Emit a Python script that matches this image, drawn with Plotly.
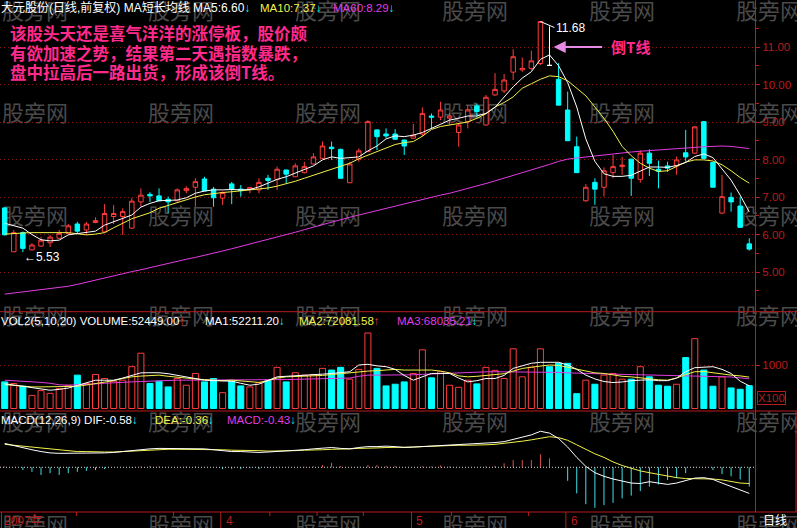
import plotly.graph_objects as go

W, H = 797, 528

# ---------------- data ----------------
opens = [6.71, 5.54, 6.05, 5.59, 5.69, 5.78, 5.90, 6.03, 6.28, 6.12,
         6.32, 6.07, 6.48, 6.48, 6.17, 6.87, 7.07, 7.03, 6.94, 6.90,
         7.17, 7.26, 7.48, 7.21, 6.97, 7.35, 7.21, 7.21, 7.19, 7.50,
         7.47, 7.72, 7.54, 7.65, 7.88, 8.03, 8.33, 8.27, 7.38, 8.01,
         8.21, 8.79, 8.68, 8.68, 8.52, 8.57, 8.68, 9.16, 9.13, 9.10,
         8.72, 9.01, 9.43, 8.92, 9.72, 9.83, 10.33, 10.39, 10.43, 10.56,
         10.51, 10.14, 9.32, 8.34, 6.90, 7.39, 7.26, 7.65, 7.81, 8.01,
         7.47, 8.17, 7.74, 7.83, 7.83, 8.18, 8.17, 9.01, 7.92, 6.57,
         6.99, 6.76, 5.75]
highs = [6.72, 6.12, 6.08, 5.77, 5.94, 5.99, 6.12, 6.28, 6.34, 6.34,
         6.46, 6.81, 6.79, 6.70, 6.97, 7.23, 7.13, 7.23, 7.01, 7.23,
         7.29, 7.50, 7.54, 7.27, 7.15, 7.40, 7.32, 7.27, 7.50, 7.59,
         7.81, 7.73, 7.90, 7.94, 8.17, 8.48, 8.48, 8.29, 7.94, 8.30,
         9.05, 8.80, 8.83, 8.81, 8.53, 8.95, 9.39, 9.23, 9.54, 9.23,
         8.95, 9.45, 9.50, 9.72, 10.30, 10.28, 10.94, 10.72, 10.90, 11.68,
         11.55, 10.57, 9.81, 8.61, 7.35, 7.50, 7.79, 8.12, 8.07, 8.02,
         8.25, 8.27, 7.97, 7.94, 8.08, 8.79, 8.89, 9.02, 7.94, 7.59,
         7.12, 7.01, 5.90]
lows = [5.98, 5.54, 5.53, 5.58, 5.67, 5.67, 5.89, 6.02, 6.03, 5.99,
        6.30, 6.05, 6.28, 5.99, 6.15, 6.74, 6.87, 6.90, 6.57, 6.88,
        7.10, 6.74, 7.16, 6.74, 6.79, 6.81, 7.01, 7.10, 7.10, 7.19,
        7.19, 7.37, 7.53, 7.63, 7.87, 8.02, 7.99, 7.50, 7.37, 7.94,
        8.20, 8.25, 8.57, 8.52, 8.12, 8.55, 8.61, 8.83, 9.05, 8.92,
        8.34, 8.83, 9.14, 8.91, 9.70, 9.77, 10.12, 10.34, 10.38, 10.52,
        10.51, 9.45, 8.50, 7.65, 6.87, 6.79, 7.01, 7.50, 7.59, 7.03,
        7.38, 7.56, 7.23, 7.67, 7.59, 7.94, 8.15, 8.01, 7.26, 6.55,
        6.61, 6.19, 5.57]
closes = [5.99, 6.05, 5.63, 5.72, 5.85, 5.93, 6.03, 6.23, 6.09, 6.28,
          6.37, 6.56, 6.56, 6.61, 6.89, 7.05, 7.03, 6.90, 6.87, 7.19,
          7.23, 7.41, 7.16, 6.98, 7.12, 7.21, 7.17, 7.25, 7.39, 7.44,
          7.74, 7.61, 7.83, 7.81, 8.07, 8.36, 8.29, 7.50, 7.88, 8.23,
          9.01, 8.61, 8.63, 8.54, 8.36, 8.65, 9.23, 9.13, 9.32, 9.16,
          8.92, 9.32, 9.28, 9.66, 9.87, 10.12, 10.74, 10.43, 10.63, 11.68,
          10.51, 9.45, 8.50, 7.65, 7.26, 7.21, 7.70, 7.81, 7.85, 7.50,
          8.17, 7.90, 7.69, 7.77, 7.99, 8.07, 8.87, 8.03, 7.26, 7.01,
          6.87, 6.19, 5.61]

ma5 = [6.30, 6.24, 6.17, 6.00, 5.86, 5.83, 5.85, 5.99, 6.03, 6.06,
       6.09, 6.25, 6.34, 6.41, 6.52, 6.73, 6.83, 6.90, 6.92, 6.92,
       6.98, 7.10, 7.16, 7.19, 7.19, 7.20, 7.19, 7.20, 7.27, 7.38,
       7.47, 7.54, 7.63, 7.72, 7.83, 7.99, 8.07, 8.03, 8.04, 8.07,
       8.23, 8.36, 8.55, 8.63, 8.61, 8.65, 8.72, 8.83, 8.95, 9.05,
       9.10, 9.16, 9.16, 9.23, 9.39, 9.66, 9.94, 10.17, 10.34, 10.67,
       10.79, 10.50, 10.05, 9.40, 8.55, 7.95, 7.62, 7.55, 7.55, 7.58,
       7.70, 7.80, 7.80, 7.79, 7.84, 7.92, 8.08, 8.15, 8.05, 7.75,
       7.45, 7.05, 6.60]
ma10 = [6.01, 6.03, 6.04, 6.05, 6.05, 6.05, 6.05, 6.05, 6.02, 5.99,
        6.01, 6.05, 6.18, 6.30, 6.42, 6.50, 6.58, 6.70, 6.78, 6.85,
        6.92, 7.00, 7.06, 7.10, 7.12, 7.14, 7.16, 7.18, 7.21, 7.24,
        7.29, 7.35, 7.42, 7.50, 7.58, 7.66, 7.75, 7.83, 7.90, 8.02,
        8.12, 8.20, 8.30, 8.40, 8.45, 8.48, 8.62, 8.80, 8.88, 8.92,
        8.95, 9.00, 9.10, 9.22, 9.40, 9.52, 9.67, 9.90, 10.02, 10.14,
        10.23, 10.21, 10.10, 9.90, 9.70, 9.40, 9.10, 8.75, 8.35, 8.10,
        7.90, 7.77, 7.68, 7.70, 7.82, 7.93, 7.99, 7.99, 7.96, 7.86,
        7.70, 7.52, 7.37]
ma60 = [4.41, 4.44, 4.47, 4.50, 4.52, 4.55, 4.58, 4.62, 4.67, 4.73,
        4.78, 4.84, 4.89, 4.95, 5.01, 5.06, 5.12, 5.17, 5.23, 5.28,
        5.34, 5.39, 5.44, 5.50, 5.56, 5.62, 5.68, 5.74, 5.80, 5.86,
        5.92, 5.99, 6.06, 6.13, 6.20, 6.27, 6.34, 6.40, 6.46, 6.52,
        6.58, 6.65, 6.71, 6.77, 6.83, 6.88, 6.94, 7.00, 7.05, 7.10,
        7.16, 7.22, 7.29, 7.36, 7.43, 7.50, 7.57, 7.64, 7.72, 7.80,
        7.87, 7.95, 8.01, 8.04, 8.07, 8.10, 8.13, 8.15, 8.18, 8.20,
        8.22, 8.24, 8.26, 8.27, 8.29, 8.31, 8.33, 8.34, 8.35, 8.36,
        8.35, 8.33, 8.29]

# volume in units of 100 shares (axis marked X100)
volume = [612, 574, 512, 302, 411, 349, 457, 535, 767, 574,
          783, 690, 628, 651, 961, 1271, 574, 628, 496, 690,
          535, 806, 612, 690, 364, 628, 519, 496, 597, 651,
          946, 612, 822, 767, 783, 922, 884, 946, 674, 899,
          1736, 922, 519, 558, 612, 806, 1349, 705, 845, 535,
          488, 651, 566, 946, 876, 690, 1372, 728, 946, 1372,
          961, 1039, 1039, 341, 651, 558, 767, 806, 674, 674,
          961, 728, 535, 512, 558, 1171, 1605, 884, 512, 728,
          473, 442, 524.49]
vol_ma5 = [570, 540, 520, 496, 460, 420, 440, 470, 530, 590,
           650, 650, 650, 700, 760, 820, 822, 822, 800, 760,
           728, 690, 651, 640, 635, 628, 580, 535, 560, 650,
           728, 740, 750, 760, 767, 790, 806, 820, 845, 1000,
           1016, 980, 961, 900, 760, 651, 720, 806, 806, 806,
           700, 612, 640, 690, 690, 760, 922, 980, 1040, 1062,
           1062, 1062, 1000, 900, 767, 680, 620, 597, 610, 640,
           651, 660, 640, 640, 700, 845, 938, 950, 961, 900,
           806, 628, 522.112]
vol_ma10 = [550, 530, 510, 496, 496, 496, 496, 496, 510, 540,
            574, 600, 640, 690, 728, 745, 760, 767, 740, 715,
            697, 680, 665, 651, 640, 651, 630, 610, 600, 640,
            700, 728, 735, 740, 751, 760, 780, 800, 830, 845,
            860, 870, 885, 899, 884, 884, 884, 884, 860, 820,
            750, 728, 740, 760, 767, 800, 860, 920, 950, 980,
            1000, 990, 950, 900, 860, 820, 806, 770, 740, 728,
            700, 680, 660, 651, 700, 780, 845, 850, 820, 790,
            767, 750, 720.8158]
vol_ma20 = [651, 640, 630, 620, 600, 580, 545, 535, 540, 550,
            565, 580, 595, 605, 612, 620, 630, 640, 648, 651,
            651, 651, 651, 651, 651, 651, 651, 651, 651, 655,
            660, 665, 670, 675, 680, 685, 690, 695, 700, 740,
            767, 767, 767, 767, 767, 775, 785, 795, 805, 815,
            825, 835, 840, 843, 845, 845, 845, 845, 845, 845,
            840, 830, 820, 810, 806, 800, 795, 790, 785, 783,
            783, 783, 780, 775, 770, 765, 760, 755, 750, 740,
            725, 705, 680.3521]

dif = [0.53, 0.48, 0.44, 0.39, 0.35, 0.32, 0.31, 0.31, 0.31, 0.31,
       0.31, 0.32, 0.33, 0.35, 0.38, 0.40, 0.41, 0.42, 0.42, 0.42,
       0.42, 0.42, 0.41, 0.39, 0.37, 0.35, 0.35, 0.34, 0.33, 0.34,
       0.35, 0.36, 0.38, 0.39, 0.41, 0.43, 0.44, 0.42, 0.41, 0.44,
       0.46, 0.46, 0.47, 0.46, 0.44, 0.45, 0.46, 0.47, 0.48, 0.50,
       0.51, 0.52, 0.53, 0.54, 0.55, 0.57, 0.62, 0.67, 0.72, 0.80,
       0.76, 0.64, 0.45, 0.22, 0.02, -0.12, -0.20, -0.26, -0.31, -0.35,
       -0.36, -0.32, -0.35, -0.38, -0.35, -0.30, -0.24, -0.23, -0.27, -0.35,
       -0.43, -0.51, -0.58]
dea = [0.51, 0.49, 0.47, 0.44, 0.42, 0.40, 0.38, 0.36, 0.35, 0.35,
       0.34, 0.34, 0.34, 0.35, 0.36, 0.37, 0.38, 0.40, 0.40, 0.40,
       0.40, 0.40, 0.40, 0.40, 0.39, 0.38, 0.38, 0.37, 0.37, 0.36,
       0.36, 0.36, 0.37, 0.38, 0.38, 0.39, 0.40, 0.40, 0.41, 0.42,
       0.42, 0.43, 0.44, 0.44, 0.44, 0.45, 0.46, 0.47, 0.48, 0.49,
       0.49, 0.49, 0.49, 0.50, 0.51, 0.53, 0.55, 0.58, 0.61, 0.65,
       0.68, 0.66, 0.60, 0.50, 0.40, 0.30, 0.22, 0.12, 0.04, -0.02,
       -0.08, -0.12, -0.16, -0.19, -0.23, -0.25, -0.25, -0.25, -0.26, -0.28,
       -0.32, -0.35, -0.36]
macd_hist = [0.02, 0.00, -0.06, -0.10, -0.17, -0.13, -0.17, -0.13, -0.10, -0.08,
             -0.06, -0.04, 0.00, 0.00, 0.01, 0.02, 0.03, 0.02, 0.00, 0.00,
             0.02, 0.02, 0.01, 0.00, -0.04, -0.03, -0.04, -0.02, -0.04, -0.01,
             0.00, 0.00, 0.00, 0.01, 0.02, 0.05, 0.10, 0.03, 0.00, 0.01,
             0.05, 0.05, 0.03, 0.03, 0.00, 0.00, 0.02, 0.02, 0.04, 0.02,
             0.00, 0.00, 0.00, 0.02, 0.03, 0.09, 0.16, 0.16, 0.16, 0.29,
             0.20, -0.02, -0.30, -0.58, -0.82, -0.90, -0.84, -0.79, -0.69, -0.63,
             -0.53, -0.43, -0.38, -0.28, -0.24, -0.13, 0.01, 0.00, -0.06, -0.15,
             -0.20, -0.27, -0.43]

price_ticks = [5, 6, 7, 8, 9, 10, 11]
price_minor = [4.5, 5.5, 6.5, 7.5, 8.5, 9.5, 10.5, 11.5]
vol_ticks = [1000]
month_starts = [24, 45, 62]
month_labels = ["4", "5", "6"]
year_label = "2007年"
week_ticks = [7.9, 18.6, 29.2, 34.4, 39.5, 49.2, 57.7]

stock_title = "大元股份(日线,前复权) MA短长均线"
note_lines = ["该股头天还是喜气洋洋的涨停板，股价颇",
              "有欲加速之势，结果第二天遇指数暴跌，",
              "盘中拉高后一路出货，形成该倒T线。"]
pattern_label = "倒T线"
watermark = "股旁网"

# ---------------- styling ----------------
RED = '#ff3c3c'
CYAN = '#00ffff'
AXRED = '#b81c1c'
GRIDRED = '#8a1616'
YEL = '#f2f24a'
MAG = '#e23ce2'
PINK = '#ff2a8c'
LAT = 'Liberation Sans, Noto Sans CJK SC, sans-serif'
CJK = 'Noto Sans CJK SC, sans-serif'

n = len(closes)
idx = list(range(n))

def PX(x):
    return x / W

def PY(y):
    return 1 - y / H

fig = go.Figure()

def candle(ids, line_color, fill):
    return go.Candlestick(
        x=ids,
        open=[opens[i] for i in ids], high=[highs[i] for i in ids],
        low=[lows[i] for i in ids], close=[closes[i] for i in ids],
        increasing=dict(line=dict(color=line_color, width=1), fillcolor=fill),
        decreasing=dict(line=dict(color=line_color, width=1), fillcolor=fill),
        whiskerwidth=0, xaxis='x', yaxis='y', hoverinfo='skip', showlegend=False)

up = [i for i in idx if closes[i] > opens[i]]
dn = [i for i in idx if closes[i] < opens[i]]
fl = [i for i in idx if closes[i] == opens[i]]
fig.add_trace(candle(up, RED, '#000000'))
fig.add_trace(candle(dn, CYAN, CYAN))
if fl:
    fig.add_trace(candle(fl, '#ffffff', '#ffffff'))

for ys, col in [(ma60, MAG), (ma10, YEL), (ma5, '#ffffff')]:
    fig.add_trace(go.Scatter(x=idx, y=ys, mode='lines', line=dict(color=col, width=1),
                             xaxis='x', yaxis='y', hoverinfo='skip', showlegend=False))

# volume
vfill = ['#000000' if closes[i] > opens[i] else CYAN for i in idx]
vline = [RED if closes[i] > opens[i] else CYAN for i in idx]
fig.add_trace(go.Bar(x=idx, y=volume, width=0.66,
                     marker=dict(color=vfill, line=dict(color=vline, width=1)),
                     xaxis='x', yaxis='y2', hoverinfo='skip', showlegend=False))
for ys, col in [(vol_ma20, MAG), (vol_ma10, YEL), (vol_ma5, '#ffffff')]:
    fig.add_trace(go.Scatter(x=idx, y=ys, mode='lines', line=dict(color=col, width=1),
                             xaxis='x', yaxis='y2', hoverinfo='skip', showlegend=False))

# MACD histogram as thin sticks
for sign, col in [(1, '#e05050'), (-1, '#40e0e8')]:
    xs, ys = [], []
    for i in idx:
        v = macd_hist[i]
        if v * sign > 0:
            xs += [i, i, None]
            ys += [0, v, None]
    fig.add_trace(go.Scatter(x=xs, y=ys, mode='lines', line=dict(color=col, width=1),
                             xaxis='x', yaxis='y3', hoverinfo='skip', showlegend=False))
for ys, col in [(dea, YEL), (dif, '#ffffff')]:
    fig.add_trace(go.Scatter(x=idx, y=ys, mode='lines', line=dict(color=col, width=1),
                             xaxis='x', yaxis='y3', hoverinfo='skip', showlegend=False))

# ---------------- layout ----------------
x_px0 = 4.7      # pixel centre of first candle
step = 9.08      # pixels per candle
x_right = 755
xr = [-x_px0 / step, (x_right - x_px0) / step]

main_top, main_bot = 0, 311.7
vol_top, vol_bot = 311.7, 411
macd_top, macd_bot = 411, 512

def price_at(ypix):
    return 11 - (ypix - 47) / 37.5

def vol_at(ypix):
    return (408.5 - ypix) / 0.0435

def macd_at(ypix):
    return (467.3 - ypix) / 45.0

axfont = dict(family=LAT, size=11.5, color=AXRED)
fig.update_layout(
    width=W, height=H, margin=dict(l=0, r=0, t=0, b=0, autoexpand=False),
    paper_bgcolor='#000000', plot_bgcolor='#000000',
    showlegend=False, boxgap=0.3,
    xaxis=dict(domain=[0, x_right / W], range=xr, visible=False,
               rangeslider=dict(visible=False), anchor='y'),
    yaxis=dict(domain=[PY(main_bot), PY(main_top)], range=[price_at(main_bot), price_at(main_top)],
               side='right', anchor='x', tickvals=price_ticks, automargin=False,
               ticktext=[f"{v:.2f}" for v in price_ticks], tickfont=axfont,
               ticks='outside', ticklen=4, tickcolor=AXRED,
               minor=dict(tickvals=price_minor, ticks='outside', ticklen=3, tickcolor=AXRED, showgrid=False),
               showgrid=True, gridcolor=GRIDRED, griddash='1px,3px', gridwidth=1,
               showline=True, linecolor=AXRED, linewidth=1, zeroline=False),
    yaxis2=dict(domain=[PY(vol_bot), PY(vol_top)], range=[vol_at(vol_bot), vol_at(vol_top)],
                side='right', anchor='x', tickvals=vol_ticks, ticktext=[str(v) for v in vol_ticks],
                tickfont=axfont, ticks='outside', ticklen=4, tickcolor=AXRED, automargin=False,
                showgrid=True, gridcolor=GRIDRED, griddash='1px,3px',
                showline=True, linecolor=AXRED, linewidth=1, zeroline=False),
    yaxis3=dict(domain=[PY(macd_bot), PY(macd_top)], range=[macd_at(macd_bot), macd_at(macd_top)],
                side='right', anchor='x', showticklabels=False, ticks='', showgrid=False,
                automargin=False,
                showline=True, linecolor=AXRED, linewidth=1, zeroline=False),
)

shapes = []
# watermarks (drawn below the data)
wm_cols = [35, 181, 328, 475, 622, 769]
wm_rows = [13, 115, 218, 318, 424, 527]
for yy in wm_rows:
    for xx in wm_cols:
        shapes.append(dict(type='rect', xref='paper', yref='paper', layer='below',
                           x0=PX(xx - 40), x1=PX(xx + 40), y0=PY(yy + 14), y1=PY(yy - 14),
                           line=dict(width=0), fillcolor='rgba(0,0,0,0)',
                           label=dict(text=watermark, textposition='middle center',
                                      font=dict(family=CJK, size=22, color='#4a4a4a'))))
# panel separators
for yy in [main_bot, vol_bot, macd_bot]:
    shapes.append(dict(type='line', xref='paper', yref='paper', x0=0, x1=1,
                       y0=PY(yy), y1=PY(yy), line=dict(color=AXRED, width=1)))
shapes.append(dict(type='line', xref='paper', yref='paper', x0=PX(796), x1=PX(796),
                   y0=PY(macd_top), y1=PY(macd_bot), line=dict(color=AXRED, width=1)))
shapes.append(dict(type='line', xref='paper', yref='paper', x0=PX(1.5), x1=PX(1.5),
                   y0=PY(macd_bot), y1=0, line=dict(color=AXRED, width=1)))
# MACD zero line
shapes.append(dict(type='line', xref='x domain', yref='y3', x0=0, x1=1, y0=0, y1=0,
                   line=dict(color='#d8d8d8', width=1, dash='1px,2px')))
# date strip dividers and week ticks
for m in month_starts:
    shapes.append(dict(type='line', xref='x', yref='paper', x0=m - 0.2, x1=m - 0.2,
                       y0=PY(macd_bot), y1=0, line=dict(color=AXRED, width=1)))
for wk in week_ticks:
    shapes.append(dict(type='line', xref='x', yref='paper', x0=wk, x1=wk,
                       y0=PY(macd_bot), y1=PY(macd_bot + 4), line=dict(color=AXRED, width=1)))

ann = []

def txt(x, y, s, color, size=12, family=LAT, anchor='left', **kw):
    ann.append(dict(xref='paper', yref='paper', x=PX(x), y=PY(y), text=s, showarrow=False,
                    xanchor=anchor, yanchor='middle', font=dict(family=family, size=size, color=color),
                    borderpad=0, **kw))

def arrow(ch, col):
    return f"<span style='color:{col}'>{ch}</span>"

DN = arrow("↓", CYAN)
UPA = arrow("↑", RED)
# main header
txt(0, 8, f"{stock_title} MA5:{ma5[-1]:.2f}{DN}", '#ffffff')
txt(259, 8, f"MA10:{ma10[-1]:.2f}{DN}", YEL, size=11.5)
txt(332, 8, f"MA60:{ma60[-1]:.2f}{DN}", MAG, size=11.5)
# volume header
txt(0, 321, f"VOL2(5,10,20) VOLUME:{volume[-1]*100:.2f}{UPA}", '#ffffff', size=11.5)
txt(204, 321, f"MA1:{vol_ma5[-1]*100:.2f}{DN}", '#ffffff', size=11.5)
txt(298, 321, f"MA2:{vol_ma10[-1]*100:.2f}{UPA}", YEL, size=11.5)
txt(396, 321, f"MA3:{vol_ma20[-1]*100:.2f}{DN}", MAG, size=11.5)
# MACD header
txt(0, 420, f"MACD(12,26,9) DIF:{dif[-1]:.2f}{DN}", '#ffffff', size=11.5)
txt(154, 420, f"DEA:{dea[-1]:.2f}{DN}", YEL, size=11.5)
txt(226, 420, f"MACD:{macd_hist[-1]:.2f}{DN}", MAG, size=11.5)

# commentary
for k, line in enumerate(note_lines):
    ann.append(dict(xref='paper', yref='paper', x=PX(9), y=PY([33, 53, 72][k]), text=line,
                    showarrow=False, xanchor='left', yanchor='middle', borderpad=0,
                    font=dict(family=CJK, size=16.5, color=PINK, weight='bold')))
txt(610, 47, pattern_label, PINK, size=15, family=CJK)
ann[-1]['font']['weight'] = 'bold'

# arrow pointing at the inverted-T candle
ann.append(dict(xref='x', yref='y', x=60.45, y=11.0, ax=50, ay=0, text='', showarrow=True,
                arrowhead=2, arrowsize=1.1, arrowwidth=2.2, arrowcolor='#e68ae6'))

# high / low marks
hi_i = max(idx, key=lambda i: highs[i])
lo_i = min(idx, key=lambda i: lows[i])
ann.append(dict(xref='x', yref='y', x=hi_i, y=highs[hi_i], ax=14, ay=6, text=f"{highs[hi_i]:.2f}",
                showarrow=True, arrowhead=0, arrowwidth=1, arrowcolor='#ffffff', xanchor='left',
                yanchor='middle', font=dict(family=LAT, size=12, color='#ffffff')))
ann.append(dict(xref='x', yref='y', x=lo_i, y=lows[lo_i], yshift=-5, xshift=-1, text=f"←{lows[lo_i]:.2f}",
                showarrow=False, xanchor='left', yanchor='middle',
                font=dict(family=LAT, size=12, color='#ffffff')))

# volume unit box
ann.append(dict(xref='paper', yref='paper', x=PX(771), y=PY(398), text="X100", showarrow=False,
                xanchor='center', yanchor='middle', bordercolor=AXRED, borderwidth=1, borderpad=0,
                font=dict(family=LAT, size=11.5, color=AXRED)))
# date labels
txt(3, 521, year_label, AXRED)
for m, lab in zip(month_starts, month_labels):
    ann.append(dict(xref='x', yref='paper', x=m - 0.2, y=PY(521), xshift=3, text=lab,
                    showarrow=False, xanchor='left', yanchor='middle',
                    font=dict(family=LAT, size=12, color=AXRED)))
txt(775, 519, "日线", '#ffffff', anchor='center', family=CJK)

fig.update_layout(shapes=shapes, annotations=ann)
fig.write_html("out.html", config={'displayModeBar': False, 'staticPlot': True},
               post_script="document.body.style.margin='0px';document.body.style.padding='0px';"
                           "document.documentElement.style.overflow='hidden';")
